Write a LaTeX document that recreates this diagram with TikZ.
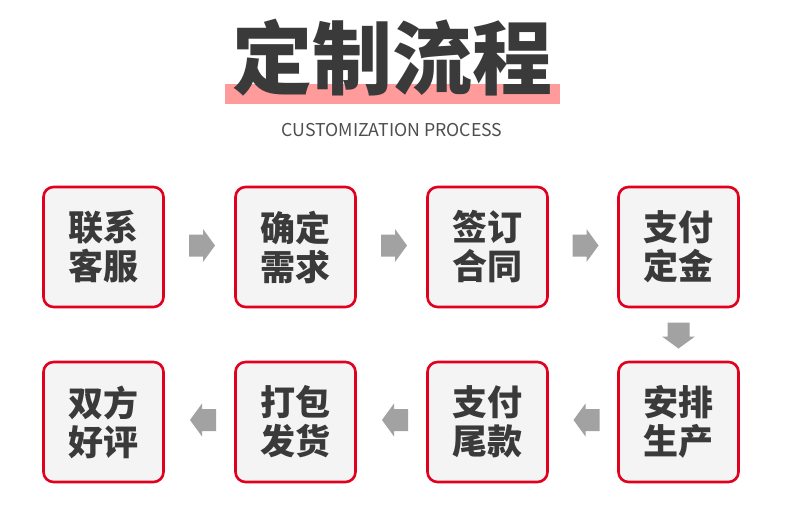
\documentclass[tikz,border=0pt]{standalone}
\usepackage{fontspec}
\newfontfamily\cjk{Noto Sans CJK SC}
\usetikzlibrary{calc}
\definecolor{boxred}{HTML}{E1001E}
\definecolor{boxfill}{HTML}{F4F4F4}
\definecolor{txt}{HTML}{3A3A3A}
\definecolor{arrowgray}{HTML}{A2A2A2}
\definecolor{barpink}{HTML}{FF9B9B}
\tikzset{
  stepbox/.style={draw=boxred, line width=2.6pt, fill=boxfill, rounded corners=10pt,
    minimum width=120pt, minimum height=120pt, inner sep=0pt, align=center,
    text=txt, font=\cjk\bfseries\fontsize{35}{39}\selectfont},
  blockarrow/.style={fill=arrowgray}
}
\newcommand{\blockarrow}[2]{\fill[blockarrow, shift={(#1)}, rotate=#2]
  (-13,-11) -- (1,-11) -- (1,-16.5) -- (13,0) -- (1,16.5) -- (1,11) -- (-13,11) -- cycle;}
\begin{document}
\begin{tikzpicture}[x=1pt, y=-1pt]
\fill[white] (0,0) rectangle (790,532);
\useasboundingbox (0,0) rectangle (790,532);
% title
\fill[barpink] (225,84) rectangle (560,104);
\node[text=txt, font=\cjk\bfseries\fontsize{80}{80}\selectfont, inner sep=0pt] (title) at (392.5,58) {定制流程};
\node[text=txt!90, font=\cjk\fontsize{17.7}{17.7}\selectfont, inner sep=0pt] (subtitle) at (392,130.5) {CUSTOMIZATION PROCESS};
% boxes
\node[stepbox] (b1) at (103.5,247) {联系\\客服};
\node[stepbox] (b2) at (295.5,247) {确定\\需求};
\node[stepbox] (b3) at (487.5,247) {签订\\合同};
\node[stepbox] (b4) at (678.5,247) {支付\\定金};
\node[stepbox] (b5) at (678.5,422) {安排\\生产};
\node[stepbox] (b6) at (487.5,422) {支付\\尾款};
\node[stepbox] (b7) at (295.5,422) {打包\\发货};
\node[stepbox] (b8) at (103.5,422) {双方\\好评};
% arrows
\blockarrow{$($(b1.east)!0.5!(b2.west)$)+(2.5,-1.5)$}{0}
\blockarrow{$($(b2.east)!0.5!(b3.west)$)+(2.5,-1.5)$}{0}
\blockarrow{$($(b3.east)!0.5!(b4.west)$)+(2.5,-1.5)$}{0}
\blockarrow{$($(b4.south)!0.5!(b5.north)$)+(0,1)$}{-90}
\blockarrow{$($(b6.east)!0.5!(b5.west)$)+(3.5,-2)$}{180}
\blockarrow{$($(b7.east)!0.5!(b6.west)$)+(3.5,-2)$}{180}
\blockarrow{$($(b8.east)!0.5!(b7.west)$)+(3.5,-2)$}{180}
\end{tikzpicture}
\end{document}
